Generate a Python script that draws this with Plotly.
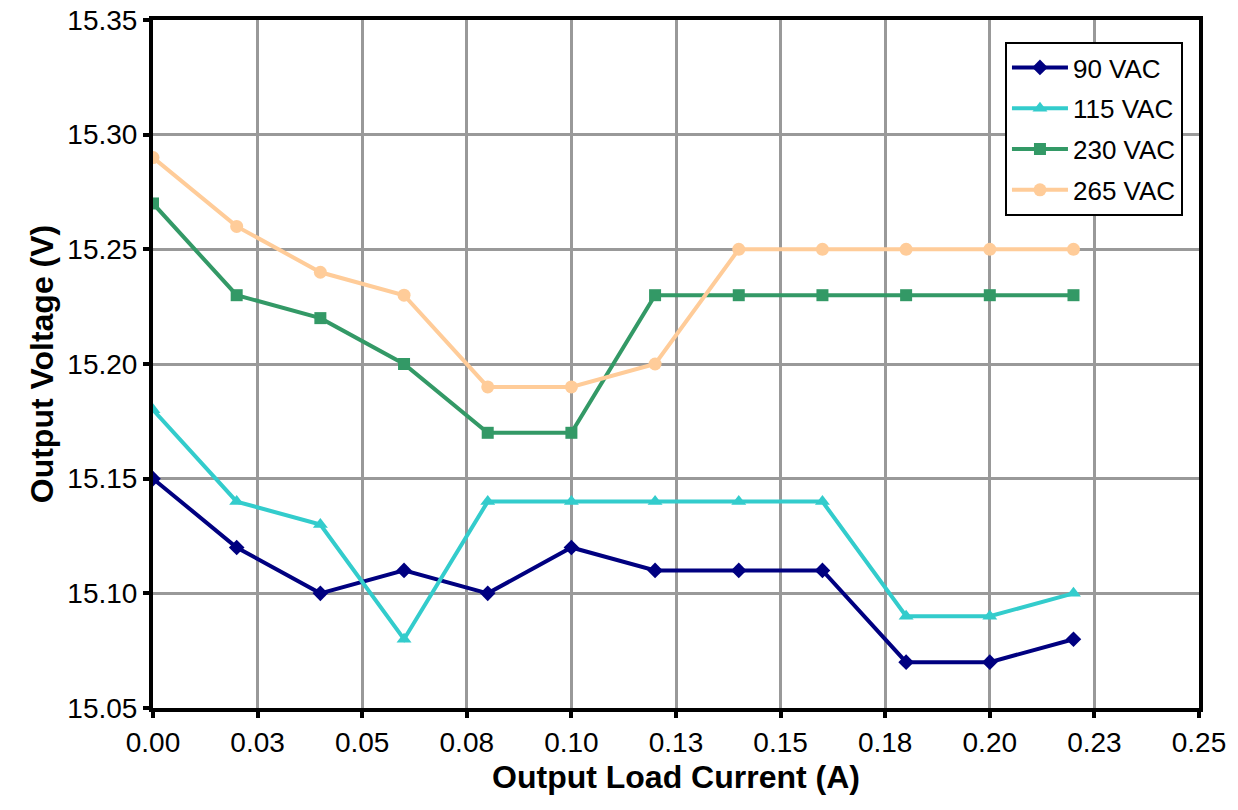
import plotly.graph_objects as go

x_current = [0.00, 0.02, 0.04, 0.06, 0.08, 0.10, 0.12, 0.14, 0.16, 0.18, 0.20, 0.22]
v_90 = [15.15, 15.12, 15.10, 15.11, 15.10, 15.12, 15.11, 15.11, 15.11, 15.07, 15.07, 15.08]
v_115 = [15.18, 15.14, 15.13, 15.08, 15.14, 15.14, 15.14, 15.14, 15.14, 15.09, 15.09, 15.10]
v_230 = [15.27, 15.23, 15.22, 15.20, 15.17, 15.17, 15.23, 15.23, 15.23, 15.23, 15.23, 15.23]
v_265 = [15.29, 15.26, 15.24, 15.23, 15.19, 15.19, 15.20, 15.25, 15.25, 15.25, 15.25, 15.25]

x_tickvals = [0.0, 0.025, 0.05, 0.075, 0.10, 0.125, 0.15, 0.175, 0.20, 0.225, 0.25]
x_ticktext = ["0.00", "0.03", "0.05", "0.08", "0.10", "0.13", "0.15", "0.18", "0.20", "0.23", "0.25"]
y_tickvals = [15.05, 15.10, 15.15, 15.20, 15.25, 15.30, 15.35]
y_ticktext = ["15.05", "15.10", "15.15", "15.20", "15.25", "15.30", "15.35"]

series = [
    ("90 VAC", v_90, "#000080", "diamond", 12),
    ("115 VAC", v_115, "#33CCCC", "triangle-up", 13),
    ("230 VAC", v_230, "#339966", "square", 12),
    ("265 VAC", v_265, "#FFCC99", "circle", 13),
]

fig = go.Figure()
for name, vals, color, sym, size in series:
    fig.add_trace(go.Scatter(
        x=x_current, y=vals, name=name, mode="lines+markers",
        legendgroup=name,
        line=dict(color=color, width=4),
        marker=dict(symbol=sym, size=size, color=color),
    ))

font_family = "Liberation Sans, Arial, sans-serif"
fig.update_layout(
    width=1238, height=810,
    margin=dict(l=153, r=39, t=20, b=102),
    paper_bgcolor="white", plot_bgcolor="white",
    font=dict(family=font_family, size=28, color="black"),
    showlegend=True,
    legend=dict(
        x=0.8145, y=0.968, xanchor="left", yanchor="top",
        bgcolor="white", bordercolor="black", borderwidth=2,
        font=dict(size=26, family=font_family),
        tracegroupgap=4, itemwidth=56,
    ),
    xaxis=dict(
        range=[0, 0.25], tickmode="array", tickvals=x_tickvals, ticktext=x_ticktext,
        showgrid=True, gridcolor="#999999", gridwidth=3,
        showline=True, linecolor="black", linewidth=4, mirror=True,
        ticks="outside", ticklen=6, tickwidth=4, tickcolor="black",
        zeroline=False, automargin=False, ticklabeloverflow="allow",
        title=dict(text="<b>Output Load Current (A)</b>", font=dict(size=32), standoff=10),
        tickfont=dict(size=28),
    ),
    yaxis=dict(
        range=[15.05, 15.35], tickmode="array", tickvals=y_tickvals, ticktext=y_ticktext,
        showgrid=True, gridcolor="#999999", gridwidth=3,
        showline=True, linecolor="black", linewidth=4, mirror=True,
        ticks="outside", ticklen=6, tickwidth=4, tickcolor="black",
        zeroline=False, automargin=False, ticklabeloverflow="allow",
        title=dict(text="<b>Output Voltage (V)</b>", font=dict(size=32), standoff=5),
        tickfont=dict(size=28),
    ),
)

fig.write_html("out.html", config={"displayModeBar": False},
               post_script="document.body.style.margin='0';")
